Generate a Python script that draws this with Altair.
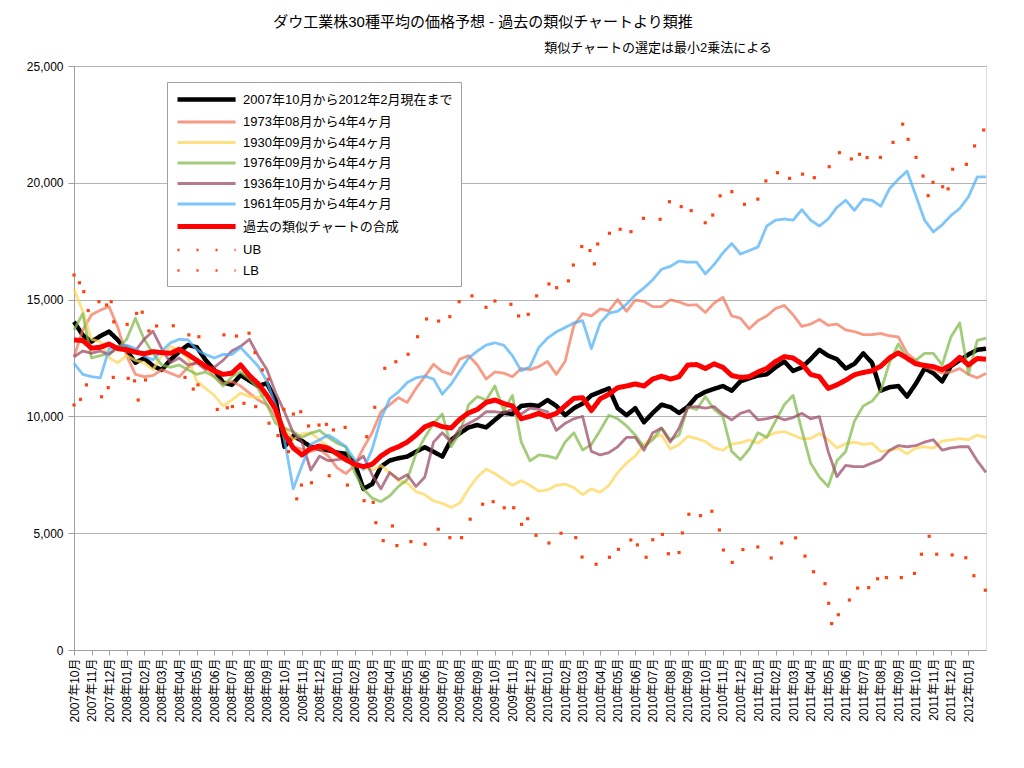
import json
import altair as alt
import pandas as pd

FONT = "Liberation Sans, 'Noto Sans CJK JP', sans-serif"

# ---- series names (legend order) ----
names = [
    "2007年10月から2012年2月現在まで",
    "1973年08月から4年4ヶ月",
    "1930年09月から4年4ヶ月",
    "1976年09月から4年4ヶ月",
    "1936年10月から4年4ヶ月",
    "1961年05月から4年4ヶ月",
    "過去の類似チャートの合成",
    "UB",
    "LB",
]

# ---- month tick labels (index 0 = 2007年10月) ----
month_labels = []
for k in range(52):
    yy = 2007 + (k + 9) // 12
    mm = (k + 9) % 12 + 1
    month_labels.append(f"{yy}年{mm:02d}月")

# ---- line series, sampled every half month (time index in months) ----
black = [14050, 13480, 13200, 13440, 13630, 13270, 12820, 12300, 12490, 12160,
         11990, 12420, 12770, 13060, 12960, 12420, 11990, 11450, 11350, 11770,
         11530, 11300, 11420, 10700, 8700, 9160, 8950, 8700, 8600, 8550,
         8450, 8400, 8000, 6900, 7100, 7850, 8110, 8210, 8280, 8490,
         8680, 8490, 8280, 8990, 9280, 9530, 9630, 9530, 9850, 10160,
         10100, 10450, 10490, 10450, 10700, 10450, 10050, 10350, 10550, 10900,
         11050, 11200, 10350, 10050, 10350, 9750, 10150, 10500, 10400, 10150,
         10420, 10850, 11050, 11180, 11300, 11100, 11500, 11630, 11750, 11800,
         12100, 12350, 11950, 12100, 12450, 12850, 12600, 12450, 12050, 12250,
         12700, 12300, 11100, 11250, 11300, 10850, 11400, 12050, 11850, 11500,
         12150, 12400, 12650, 12850, 12900]

salmon = [12550, 13700, 14350, 14550, 14700, 13800, 12600, 11800, 11700, 11750,
          12000, 11850, 11700, 12100, 12300, 12200, 11700, 11400, 11500, 11300,
          11000, 10700, 10500, 10000, 9200, 8700, 8600, 8500, 8600, 8300,
          7800, 7550, 7900, 8650, 9300, 10200, 10500, 10800, 10600, 11200,
          11700, 12230, 11920, 11800, 12450, 12600, 12200, 11600, 11900, 11850,
          11700, 12050, 12000, 12130, 12350, 11800, 12350, 13900, 14400, 14300,
          14600, 14520, 15000, 14500, 14980, 14920, 14700, 14700, 14990, 14900,
          14760, 14780, 14450, 14850, 15100, 14300, 14200, 13750, 14100, 14300,
          14620, 14750, 14350, 13850, 13950, 14150, 13900, 13950, 13700, 13630,
          13500, 13500, 13550, 13450, 13400, 12700, 12400, 12120, 12000, 11850,
          11900, 12050, 11800, 11650, 11840]

yellow = [15450, 14500, 13300, 13200, 12500, 12300, 12600, 12400, 12300, 12000,
          12600, 13000, 12800, 12500, 11500, 11200, 10900, 10450, 10700, 11000,
          10850, 10800, 11000, 10300, 9500, 9000, 9250, 9300, 9000, 8700,
          8300, 8100, 7900, 7800, 7700, 7900, 7600, 7250, 7150, 6780,
          6650, 6380, 6280, 6100, 6290, 6900, 7400, 7750, 7550, 7300,
          7050, 7250, 7050, 6800, 6850, 7050, 7100, 6950, 6650, 6900,
          6750, 7050, 7600, 8000, 8300, 8800, 9100, 9200, 8600, 8800,
          9150, 9050, 8930, 8650, 8550, 8820, 8870, 8990, 8850, 9150,
          9300, 9350, 9200, 9050, 9050, 9270, 9000, 8650, 8830, 8900,
          8800, 8850, 8500, 8550, 8630, 8400, 8650, 8700, 8640, 8950,
          8990, 9050, 9000, 9200, 9100]

green = [13700, 14400, 12500, 12600, 12700, 12900, 13300, 14200, 13300, 12700,
         12200, 12100, 12200, 12000, 11800, 11900, 11700, 11300, 11700, 11900,
         11600, 11200, 10500, 9700, 9500, 9350, 9100, 9280, 9400, 9100,
         8850, 8700, 7600, 6900, 6500, 6350, 6600, 7000, 7300, 8400,
         9100, 9700, 10100, 8700, 9300, 10500, 10850, 10700, 11300, 10250,
         10900, 8900, 8100, 8350, 8300, 8200, 8900, 9300, 8560, 8800,
         9400, 10050, 9900, 9600, 9200, 8700, 9000, 9500, 9000, 9200,
         10400, 10300, 10850, 10300, 10000, 8500, 8150, 8600, 9300, 9100,
         9800, 10500, 10900, 9400, 8000, 7400, 7000, 8100, 8500, 9800,
         10450, 10650, 11100, 12300, 13100, 12500, 12400, 12700, 12700, 12200,
         13400, 14000, 11800, 13250, 13350]

mauve = [12550, 12800, 12700, 12800, 12650, 13000, 13000, 12800, 13300, 13650,
         12900, 12300, 12500, 12200, 12300, 12000, 12100, 12400, 12800, 13000,
         13300, 12600, 12000, 11000, 10200, 9300, 8900, 7700, 8300, 8100,
         8150, 8200, 8000, 8300, 7500, 6900, 7600, 7300, 7500, 7000,
         7400, 8900, 9300, 8900, 9500, 9700, 9900, 10200, 10200, 10150,
         10300, 10100, 10350, 10300, 10200, 9400, 9700, 9900, 10000, 8500,
         8350, 8450, 8700, 9100, 9100, 8550, 9300, 9500, 8900, 9500,
         10400, 10420, 10350, 10420, 10100, 9850, 10130, 10250, 9850, 9900,
         10000, 9850, 9950, 10130, 9900, 9990, 8500, 7420, 7900, 7850,
         7850, 8000, 8150, 8550, 8750, 8700, 8750, 8900, 9000, 8560,
         8650, 8700, 8700, 8100, 7600]

blue = [12270, 11800, 11700, 11650, 12900, 12950, 13050, 12900, 12580, 12420,
        12800, 13150, 13300, 13280, 12850, 12650, 12500, 12650, 12650, 12950,
        12550, 12150, 11500, 10450, 9000, 6900, 7900, 8800, 9000, 9200,
        8970, 8700, 8150, 7720, 8600, 9900, 10750, 11050, 11450, 11650,
        11720, 11600, 10950, 11380, 11950, 12500, 12800, 13050, 13150, 13050,
        12600, 11950, 12130, 12950, 13350, 13620, 13800, 14000, 14100, 12900,
        14000, 14420, 14500, 14800, 15200, 15500, 15850, 16300, 16420, 16650,
        16600, 16600, 16100, 16500, 17000, 17400, 16950, 17100, 17250, 18150,
        18400, 18450, 18400, 18850, 18400, 18150, 18450, 18950, 19250, 18820,
        19300, 19250, 19000, 19750, 20150, 20500, 19450, 18400, 17900, 18200,
        18600, 18900, 19400, 20250, 20250]

red = [13270, 13250, 12920, 12960, 13100, 12900, 12850, 12750, 12680, 12770,
       12730, 12700, 12870, 12650, 12400, 12150, 11950, 11800, 11850, 12200,
       11750, 11400, 10900, 10300, 9250, 8650, 8350, 8630, 8730, 8640,
       8400, 8150, 7950, 7850, 7950, 8300, 8550, 8700, 8900, 9200,
       9550, 9700, 9560, 9500, 9880, 10150, 10300, 10600, 10700, 10550,
       10450, 9900, 10000, 10130, 9990, 10130, 10450, 10770, 10800, 10250,
       10750, 10950, 11230, 11300, 11390, 11300, 11600, 11720, 11600, 11700,
       12200, 12220, 12050, 12250, 12100, 11750, 11670, 11700, 11900, 12050,
       12350, 12560, 12500, 12250, 11800, 11700, 11200, 11350, 11550, 11780,
       11880, 11950, 12150, 12500, 12720, 12490, 12250, 12180, 12130, 12000,
       12200, 12530, 12200, 12480, 12450]

# ---- upper / lower band dots: (time index in months, value) ----
ub_m = [0, 0.31, 0.56, 0.81, 1.42, 1.86, 2.12, 2.27, 3.03, 3.57, 3.89, 4.27, 4.71,
        5.66, 6.55, 7.12, 8.55, 9.26, 9.98, 10.32, 10.74, 11.08, 11.97, 12.51,
        12.93, 13.37, 13.97, 14.39, 14.79, 15.46, 16.69, 17.15, 17.72, 18.35,
        19.05, 19.59, 20.1, 20.79, 21.43, 21.96, 22.69, 23.49, 24.0, 24.91,
        25.35, 25.9, 26.38, 27.08, 27.52, 28.19, 28.47, 28.95, 29.42, 29.67,
        29.86, 30.53, 31.14, 31.76, 32.47, 33.42, 33.95, 34.62, 35.19, 35.99,
        36.42, 36.84, 37.51, 38.23, 38.99, 39.45, 40.11, 40.8, 41.54, 42.21,
        43.06, 43.64, 44.32, 44.79, 45.22, 45.98, 46.7, 47.25, 47.56, 48.01,
        48.41, 48.7, 48.98, 49.53, 49.84, 50.1, 50.88, 51.35, 51.87]
ub_v = [16050, 15720, 15340, 14530, 14910, 14770, 14910, 14050, 13940, 14410, 14460,
        13660, 13870, 13880, 13490, 13410, 13490, 13440, 13560, 12730, 11990,
        11590, 10300, 10100, 10200, 9590, 9630, 9660, 9420, 9530, 9130, 10390,
        12060, 12340, 12660, 13410, 14170, 14080, 14270, 14910, 15160, 14670,
        14940, 14800, 14300, 14370, 15160, 15670, 15510, 15800, 16480, 17270,
        17100, 16530, 17380, 17840, 18010, 17910, 18480, 18440, 19190, 18980,
        18810, 18290, 18620, 19440, 19620, 19080, 19300, 20080, 20430, 20190,
        20370, 20220, 20690, 21290, 21020, 21220, 21080, 21090, 21730, 22510,
        21860, 21090, 20290, 19450, 20020, 19830, 19740, 20580, 20790, 21580,
        22260]

lb_m = [0, 0.37, 0.71, 1.57, 1.95, 2.24, 3.09, 3.45, 3.66, 4.08, 6.33, 6.8, 7.07,
        8.17, 8.74, 9.03, 9.69, 10.36, 11.12, 11.63, 12.23, 12.7, 12.97, 13.54,
        14.55, 15.59, 16.54, 17.06, 17.21, 17.63, 18.16, 18.41, 19.21, 20.02,
        20.77, 21.43, 22.1, 22.59, 23.3, 23.9, 24.53, 25.07, 25.52, 25.87,
        26.34, 27.08, 27.77, 28.61, 28.97, 29.77, 30.53, 31.04, 31.75, 32.12,
        32.62, 33.0, 33.55, 33.89, 34.5, 34.69, 35.06, 35.72, 36.37, 36.8,
        37.03, 37.53, 38.14, 38.99, 39.75, 40.35, 41.14, 41.68, 42.17, 42.82,
        43.03, 43.2, 43.58, 44.21, 44.68, 45.31, 45.82, 46.32, 47.17, 47.92,
        48.32, 48.76, 49.19, 50.07, 50.85, 51.31, 51.96]
lb_v = [10490, 10730, 11350, 10840, 11230, 11670, 11630, 11520, 10700, 11560, 11670,
        11170, 11350, 10300, 10370, 10420, 10560, 10420, 9710, 9180, 8490, 6470,
        7060, 7160, 7460, 7060, 6390, 6320, 5450, 4680, 5310, 4470, 4640, 4530,
        5170, 4810, 4810, 5600, 6240, 6350, 6090, 6090, 5380, 5620, 4910, 4580,
        5000, 4810, 3980, 3670, 3970, 4310, 4710, 4500, 3970, 4720, 4950, 4120,
        4170, 5010, 5810, 5750, 5940, 5140, 4280, 3750, 4300, 4410, 3940, 4580,
        4800, 4020, 3350, 2840, 2000, 1130, 1510, 2140, 2650, 2670, 3050, 3100,
        3100, 3280, 4100, 4870, 4100, 4070, 3950, 3180, 2560]

title_text = "ダウ工業株30種平均の価格予想 - 過去の類似チャートより類推"
subtitle_text = "類似チャートの選定は最小2乗法による"

# ---- styles ----
colors = ["#000000", "rgba(245,116,88,0.72)", "rgba(255,214,84,0.72)",
          "rgba(126,184,69,0.72)", "rgba(155,69,98,0.72)", "rgba(76,176,248,0.72)",
          "#FF0000", "#FF4010", "#FF4010"]
widths = [4.5, 2.8, 2.8, 2.8, 2.8, 2.8, 5.0, 2.5, 2.5]
dashes = [[1, 0]] * 7 + [[2, 17], [2, 17]]

# ---- build tables ----
line_order = [(names[0], black), (names[1], salmon), (names[2], yellow),
              (names[3], green), (names[4], mauve), (names[5], blue),
              (names[6], red)]
rows = []
for nm, vals in line_order:
    assert len(vals) == 105, (nm, len(vals))
    for i, v in enumerate(vals):
        rows.append({"m": i * 0.5, "v": v, "series": nm})
lines_df = pd.DataFrame(rows)

assert len(ub_m) == len(ub_v) and len(lb_m) == len(lb_v)
dots_df = pd.DataFrame(
    [{"m": a, "v": b, "band": "UB"} for a, b in zip(ub_m, ub_v)]
    + [{"m": a, "v": b, "band": "LB"} for a, b in zip(lb_m, lb_v)]
)

legend = alt.Legend(
    title=None, orient="none", legendX=93, legendY=16,
    fillColor="white", strokeColor="#A0A0A0", padding=8,
    symbolType="M-1,0H7.3", symbolSize=196, labelOffset=49,
    labelFontSize=13, labelFont=FONT, labelColor="#000000",
    rowPadding=4.5, labelLimit=400,
)

x_enc = alt.X(
    "m:Q",
    scale=alt.Scale(domain=[0, 52], nice=False, zero=False),
    axis=alt.Axis(
        values=list(range(52)),
        labelExpr=json.dumps(month_labels, ensure_ascii=False) + "[round(datum.value)]",
        labelAngle=270, title=None, grid=False, tickSize=5,
        tickColor="#A0A0A0", domainColor="#A0A0A0", labelFont=FONT,
        labelFontSize=12, labelPadding=3, labelColor="#000000",
        labelOverlap=False, labelBound=False, labelFlush=False,
    ),
)
y_enc = alt.Y(
    "v:Q",
    scale=alt.Scale(domain=[0, 25000], nice=False),
    axis=alt.Axis(
        values=[0, 5000, 10000, 15000, 20000, 25000], format=",.0f", title=None,
        gridColor="#B4B4B4", tickColor="#A0A0A0", domainColor="#A0A0A0",
        tickSize=6, labelFont=FONT, labelFontSize=12, labelPadding=5,
        labelColor="#000000",
    ),
)

lines = alt.Chart(lines_df).mark_line(strokeJoin="round").encode(
    x=x_enc,
    y=y_enc,
    color=alt.Color("series:N", scale=alt.Scale(domain=names, range=colors), legend=legend),
    strokeWidth=alt.StrokeWidth("series:N", scale=alt.Scale(type="ordinal", domain=names, range=widths), legend=legend),
    strokeDash=alt.StrokeDash("series:N", scale=alt.Scale(domain=names, range=dashes), legend=legend),
)

dots = alt.Chart(dots_df).mark_square(size=10, opacity=1).encode(
    x=x_enc,
    y=y_enc,
    color=alt.value("#FF4010"),
)

sub = alt.Chart(pd.DataFrame({"t": [subtitle_text]})).mark_text(
    font=FONT, fontSize=13, align="center", baseline="middle", color="#000000"
).encode(x=alt.value(584), y=alt.value(-18), text="t:N")

chart = alt.layer(lines, dots, sub).properties(
    width=912, height=584,
    padding={"left": 66, "top": 58, "right": 30, "bottom": 110},
    autosize=alt.AutoSizeParams(type="none"),
    title=alt.TitleParams(
        text=title_text, font=FONT, fontSize=15, fontWeight="normal",
        color="#000000", anchor="middle", dx=-47, offset=12,
    ),
).configure_view(stroke="#A6A6A6").configure_axis(labelOverlap=False).configure(background="white")

chart.save("out.html", embed_options={"renderer": "svg", "actions": False})
